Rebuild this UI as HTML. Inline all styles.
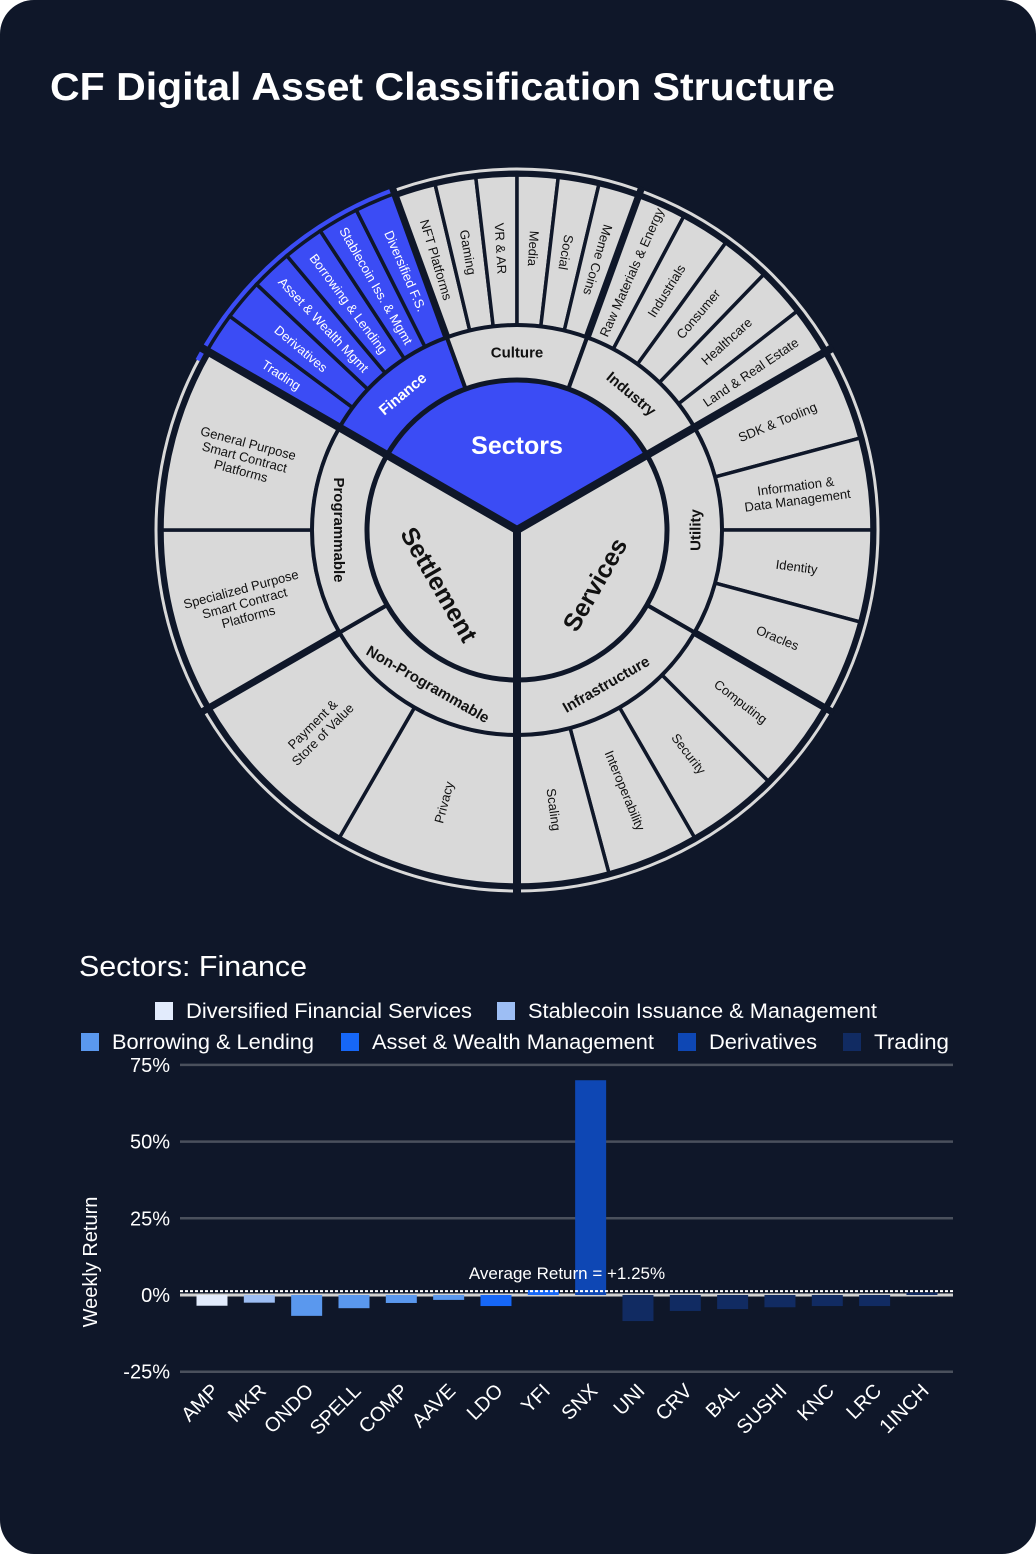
<!DOCTYPE html>
<html><head><meta charset="utf-8"><style>
html,body{margin:0;padding:0;background:#ffffff;}
#page{position:relative;width:1036px;height:1554px;background:#0f1729;border-radius:34px;overflow:hidden;}
svg{position:absolute;left:0;top:0;}
text{font-family:"Liberation Sans",sans-serif;}
</style></head><body>
<div id="page">
<svg id="svg" width="1036" height="1554">
<text x="50" y="100" fill="#ffffff" font-size="39" font-weight="bold" textLength="785" lengthAdjust="spacingAndGlyphs">CF Digital Asset Classification Structure</text>
<g id="sun"></g>
<text x="79" y="976" fill="#ffffff" font-size="29" textLength="228" lengthAdjust="spacingAndGlyphs">Sectors: Finance</text>
<g id="legend"></g>
<g id="bars"></g>
</svg>
</div>
<script>
// ---------- Sunburst data ----------
const coreNames = ["Sectors","Services","Settlement"];
const coreSpans = [[-60,60],[60,180],[180,300]];
const midNames = ["Finance","Culture","Industry","Utility","Infrastructure","Non-Programmable","Programmable"];
const midSpans = [[-60,-20],[-20,20],[20,60],[60,120],[120,180],[180,240],[240,300]];
const leafLabels = [
 ["Trading","Derivatives","Asset & Wealth Mgmt","Borrowing & Lending","Stablecoin Iss. & Mgmt","Diversified F.S."],
 ["NFT Platforms","Gaming","VR & AR","Media","Social","Meme Coins"],
 ["Raw Materials & Energy","Industrials","Consumer","Healthcare","Land & Real Estate"],
 ["SDK & Tooling","Information &\nData Management","Identity","Oracles"],
 ["Computing","Security","Interoperability","Scaling"],
 ["Privacy","Payment &\nStore of Value"],
 ["Specialized Purpose\nSmart Contract\nPlatforms","General Purpose\nSmart Contract\nPlatforms"]
];
const CX=517, CY=530, R0=150, R1=205, R2=355, R3=361;
const GRAY="#d9d9d9", BLUE="#3b4cf5", DARK="#0f1729";
const NS="http://www.w3.org/2000/svg";
const sun=document.getElementById('sun');
function pt(r,a){const t=a*Math.PI/180;return [CX+r*Math.sin(t),CY-r*Math.cos(t)];}
function arc(r0,r1,a0,a1){
 const [x0,y0]=pt(r1,a0),[x1,y1]=pt(r1,a1),[x2,y2]=pt(r0,a1),[x3,y3]=pt(r0,a0);
 const lg=(a1-a0)>180?1:0;
 if(r0<=0) return `M${CX},${CY}L${x0},${y0}A${r1},${r1} 0 ${lg} 1 ${x1},${y1}Z`;
 return `M${x0},${y0}A${r1},${r1} 0 ${lg} 1 ${x1},${y1}L${x2},${y2}A${r0},${r0} 0 ${lg} 0 ${x3},${y3}Z`;
}
function mk(tag,attrs){const e=document.createElementNS(NS,tag);for(const k in attrs)e.setAttribute(k,attrs[k]);return e;}
function label(txt,r,a,rot,size,weight,fill,name){
 const [x,y]=pt(r,a);
 const lines=txt.split("\n");
 const t=mk('text',{x:x,y:y,'font-size':size,'font-weight':weight,fill:fill,'text-anchor':'middle',transform:`rotate(${rot} ${x} ${y})`});
 
 
 lines.forEach((l,i)=>{const s=mk('tspan',{x:x,dy:i==0?(-(lines.length-1)/2*size*1.1+size*0.35):size*1.1});s.textContent=l;t.appendChild(s);});
 sun.appendChild(t);
}
const band=mk('circle',{cx:CX,cy:CY,r:R3,fill:'none',stroke:GRAY,'stroke-width':3});


sun.appendChild(band);
const bandF=mk('path',{d:arc(R3-1.5,R3+3,-62,-20),fill:BLUE});


sun.appendChild(bandF);
midSpans.forEach((sp,gi)=>{
 const n=leafLabels[gi].length, w=(sp[1]-sp[0])/n;
 leafLabels[gi].forEach((lab,li)=>{
  const a0=sp[0]+li*w,a1=a0+w,am=(a0+a1)/2;
  const fin=gi==0;
  const p=mk('path',{d:arc(R1,fin?R2+3:R2,a0,a1),fill:fin?BLUE:GRAY,stroke:DARK,'stroke-width':3.5});
  
  
  sun.appendChild(p);
  const rot=(gi==2||gi==3||gi==4)?am-90:am+90;
  label(lab,282,am,rot,13,'normal',fin?'#ffffff':'#111111','leaf-label');
 });
});
midSpans.forEach((sp,i)=>{
 const fin=i==0;
 const p=mk('path',{d:arc(R0,R1,sp[0],sp[1]),fill:fin?BLUE:GRAY,stroke:DARK,'stroke-width':4});
 
 
 sun.appendChild(p);
 const am=(sp[0]+sp[1])/2;
 const rot=i<3?am:am-180;
 label(midNames[i],178,am,rot,15,'bold',fin?'#ffffff':'#111111','group-label');
});
coreSpans.forEach((sp,i)=>{
 const p=mk('path',{d:arc(0,R0,sp[0],sp[1]),fill:i==0?BLUE:GRAY,stroke:DARK,'stroke-width':5});
 
 
 sun.appendChild(p);
});
label("Sectors",85,0,0,25,'bold','#ffffff','core-label');
label("Services",95,125,-60,25,'bold','#111111','core-label');
label("Settlement",95,235,60,25,'bold','#111111','core-label');
[60,180,300].forEach(a=>{
 const [x,y]=pt(R3+4,a);
 const l=mk('line',{x1:CX,y1:CY,x2:x,y2:y,stroke:DARK,'stroke-width':8});
 
 
 sun.appendChild(l);
});
[-20,20,120,240].forEach(a=>{
 const [x0,y0]=pt(R1-2,a),[x,y]=pt(R3+4,a);
 const l=mk('line',{x1:x0,y1:y0,x2:x,y2:y,stroke:DARK,'stroke-width':7});
 
 
 sun.appendChild(l);
});

// ---------- Bar chart data ----------
const tickers = ["AMP","MKR","ONDO","SPELL","COMP","AAVE","LDO","YFI","SNX","UNI","CRV","BAL","SUSHI","KNC","LRC","1INCH"];
const returns = [-3.5,-2.5,-6.8,-4.3,-2.6,-1.6,-3.6,1.6,70,-8.5,-5.2,-4.6,-4.0,-3.6,-3.6,0.8];
const groups = [0,1,2,2,2,2,3,3,4,5,5,5,5,5,5,5];
const groupNames = ["Diversified Financial Services","Stablecoin Issuance & Management","Borrowing & Lending","Asset & Wealth Management","Derivatives","Trading"];
const groupColors = ["#e2ebfc","#9dbef4","#5a98ee","#1667f7","#0e47b4","#112b62"];
const yTicks = [75,50,25,0,-25];
const avgReturn = 1.25;

const PX0=180, PX1=953, Y0=1295, PPP=76.7/25;
const bars=document.getElementById('bars');
function yS(v){return Y0-v*PPP;}
const step=47.33;
function xS(i){return 212+step*i;}
yTicks.forEach(t=>{
 const g=mk('line',{x1:PX0,x2:PX1,y1:yS(t),y2:yS(t),stroke:t==0?'#d0d0d0':'#4a505c','stroke-width':t==0?3:2.5});
 
 
 bars.appendChild(g);
 const tl=mk('text',{x:170,y:yS(t)+7,fill:'#ffffff','font-size':20,'text-anchor':'end'});
 
 
 tl.textContent=t+'%';
 bars.appendChild(tl);
});
const yt=mk('text',{x:97,y:1262,fill:'#ffffff','font-size':20,'text-anchor':'middle',transform:'rotate(-90 97 1262)'});


yt.textContent='Weekly Return';
bars.appendChild(yt);
tickers.forEach((tk,i)=>{
 const v=returns[i], w=31, x=xS(i)-w/2;
 const y=Math.min(yS(v),Y0), h=Math.abs(yS(v)-Y0);
 const r=mk('rect',{x:x,y:y,width:w,height:h,fill:groupColors[groups[i]]});
 
 
 bars.appendChild(r);
 const cx=xS(i)+8, cy=1392;
 const tl=mk('text',{x:cx,y:cy,fill:'#ffffff','font-size':20,'text-anchor':'end',transform:`rotate(-45 ${cx} ${cy})`});
 
 
 tl.textContent=tk;
 bars.appendChild(tl);
});
const al=mk('line',{x1:PX0,x2:PX1,y1:yS(avgReturn),y2:yS(avgReturn),stroke:'#ffffff','stroke-width':2,'stroke-dasharray':'3,2'});


bars.appendChild(al);
const at=mk('text',{x:567,y:yS(avgReturn)-12,fill:'#ffffff','font-size':17,'text-anchor':'middle'});


at.textContent='Average Return = +1.25%';
bars.appendChild(at);
const leg=document.getElementById('legend');
const legPos=[[155,1011],[497,1011],[81,1042],[341,1042],[678,1042],[843,1042]];
const legW=[286,349,202,282,108,75];
groupNames.forEach((n,i)=>{
 const [x,y]=legPos[i];
 const s=mk('rect',{x:x,y:y-9,width:18,height:18,fill:groupColors[i]});
 
 
 leg.appendChild(s);
 const t=mk('text',{x:x+31,y:y+7,fill:'#ffffff','font-size':21,textLength:legW[i],lengthAdjust:'spacingAndGlyphs'});
 
 
 t.textContent=n;
 leg.appendChild(t);
});
</script>
</body></html>
